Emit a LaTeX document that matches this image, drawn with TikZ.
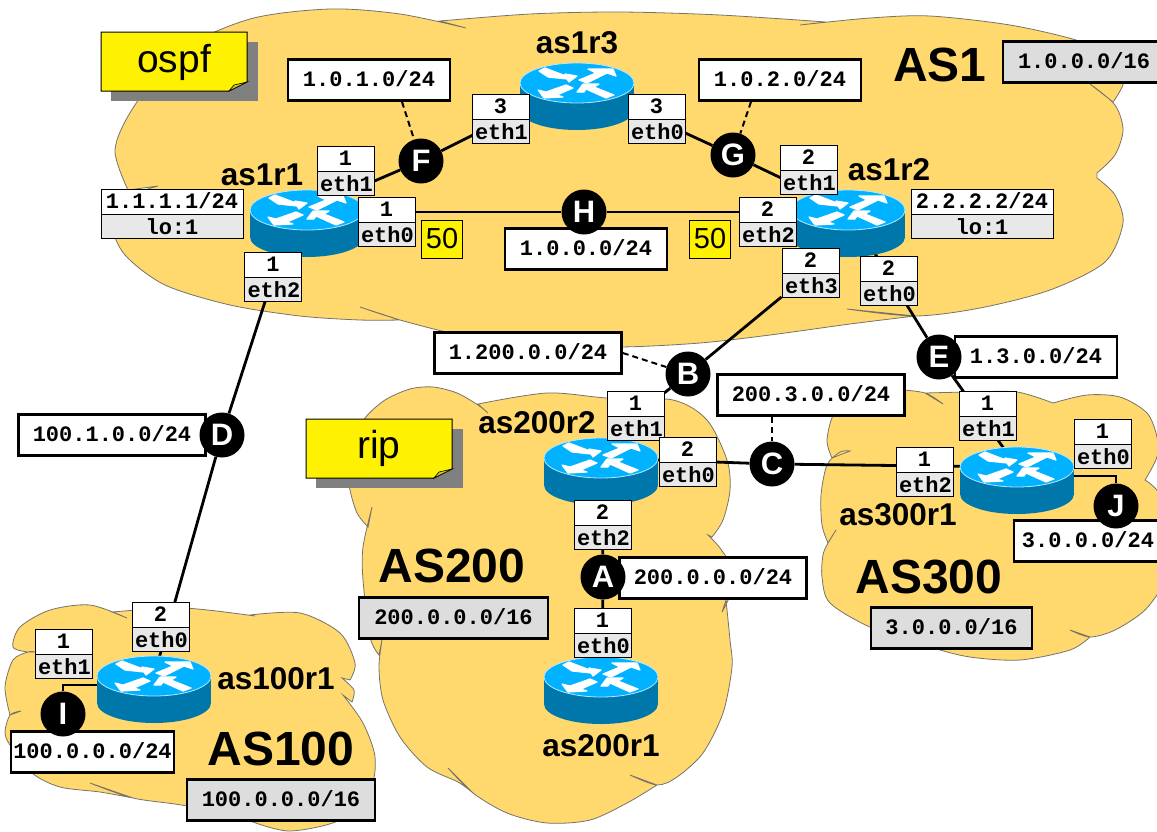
\documentclass[tikz,border=0pt]{standalone}
\usepackage{fontspec}
\usepackage{xcolor}
\setsansfont{Liberation Sans}
\setmonofont{Liberation Mono}
\usetikzlibrary{backgrounds,shapes.multipart}
\definecolor{cloudfill}{HTML}{FFD86E}
\definecolor{cloudedge}{HTML}{77736A}
\definecolor{routertop}{HTML}{00B2FF}
\definecolor{routerside}{HTML}{0077AA}
\definecolor{partgray}{HTML}{E8E8E8}
\definecolor{asgray}{HTML}{DDDDDD}
\definecolor{noteshadow}{HTML}{808080}
\tikzset{
  cloud/.style={fill=cloudfill,draw=cloudedge,line width=0.8pt},
  link/.style={draw=black,line width=2.8pt},
  netdash/.style={draw=black,line width=2pt,dashed,dash pattern=on 6pt off 4pt},
  iface/.style={draw=black,line width=1pt,rectangle split,rectangle split parts=2,
    rectangle split part fill={white,partgray},text width=51pt,align=center,
    inner xsep=3pt,inner ysep=3pt,text height=15pt,text depth=3pt,
    font=\ttfamily\bfseries\fontsize{22}{24}\selectfont},
  loback/.style={iface,text width=136pt},
  netbox/.style={draw=black,line width=2.6pt,fill=white,minimum height=41pt,inner sep=0pt,
    text height=15pt,text depth=3pt,font=\ttfamily\bfseries\fontsize{22}{24}\selectfont},
  asbox/.style={netbox,fill=asgray},
  hub/.style={circle,fill=black,text=white,minimum size=45pt,inner sep=0pt,
    font=\sffamily\bfseries\fontsize{31}{31}\selectfont},
  routername/.style={inner sep=0pt,font=\sffamily\bfseries\fontsize{31.5}{31.5}\selectfont},
  asname/.style={inner sep=0pt,font=\sffamily\bfseries\fontsize{48}{48}\selectfont},
  notetext/.style={inner sep=0pt,font=\sffamily\fontsize{39}{39}\selectfont},
  cost/.style={draw=black,line width=0.8pt,fill=yellow,minimum width=41pt,minimum height=38pt,
    inner sep=0pt,font=\sffamily\fontsize{29}{29}\selectfont},
  turn/.style={fill=white,draw=white,line width=1.2pt,line join=round},
  pics/router/.style={code={
    \fill[routerside] (-57,0) rectangle (57,27);
    \fill[routerside] (0,27) ellipse [x radius=57pt,y radius=20pt];
    \draw[fill=routertop,draw=white!70!routertop,line width=0.8pt] (0,0) ellipse [x radius=57pt,y radius=20pt];
    \path[turn] (-38,-12) -- (-32,-15) -- (-11,-7) -- (-12,-9) -- (0,-7) -- (-8,-1) -- (-10,-4) -- (-29,-6) -- cycle;
    \path[turn] (2,-3) -- (19,-10) -- (11,-14) -- (36,-14) -- (39,-7) -- (30,-10) -- (10,0) -- cycle;
    \path[turn] (-11,2) -- (-4,5) -- (-20,12) -- (-14,14) -- (-33,15) -- (-39,7) -- (-31,9) -- cycle;
    \path[turn] (0,9) -- (6,1) -- (22,1) -- (17,4) -- (37,12) -- (29,15) -- (9,6) -- (7,9) -- cycle;
    \coordinate (-c) at (0,0);
    \coordinate (-w) at (-57,9);
    \coordinate (-e) at (57,9);
  }},
  pics/notebox/.style={code={
    \fill[noteshadow] (10,10) rectangle (157,69);
    \draw[fill=yellow,draw=black,line width=1pt] (0,0) -- (146,0) -- (146,50) -- (128,59) -- (0,59) -- cycle;
    \draw[fill=yellow!80!black,draw=black,line width=0.6pt] (128,59) -- (133,53) -- (146,50) -- cycle;
  }}
}
\begin{document}
\begin{tikzpicture}[x=1pt,y=-1pt]
\useasboundingbox (0,0) rectangle (1157,831);

\pic at (101,32) {notebox};
\pic at (306,419) {notebox};
\node[notetext] (ospf) at (174,62) {ospf};
\node[notetext] (rip) at (379,448) {rip};

\pic (as1r1) at (307,210) {router};
\pic (as1r2) at (848,210) {router};
\pic (as1r3) at (577,83) {router};
\pic (as200r1) at (601,677) {router};
\pic (as200r2) at (601,458) {router};
\pic (as300r1) at (1017,467) {router};
\pic (as100r1) at (154,676) {router};

\node[routername] (name1r1) at (262,175) {as1r1};
\node[routername] (name1r2) at (889,170) {as1r2};
\node[routername] (name1r3) at (577,43) {as1r3};
\node[routername] (name200r1) at (601,746) {as200r1};
\node[routername] (name200r2) at (537,423) {as200r2};
\node[routername] (name300r1) at (898,515) {as300r1};
\node[routername] (name100r1) at (276,679) {as100r1};

\node[asname] (as1) at (940,65) {AS1};
\node[asname] (as200) at (452,566) {AS200};
\node[asname] (as300) at (929,577) {AS300};
\node[asname] (as100) at (281,749) {AS100};

\node[iface] (as1r1eth1) at (345.5,171) {1\nodepart{two}eth1};
\node[iface] (as1r1eth0) at (386.5,222) {1\nodepart{two}eth0};
\node[iface] (as1r1eth2) at (273,277) {1\nodepart{two}eth2};
\node[iface] (as1r3eth1) at (500.5,119) {3\nodepart{two}eth1};
\node[iface] (as1r3eth0) at (656.5,119) {3\nodepart{two}eth0};
\node[iface] (as1r2eth1) at (808.5,170) {2\nodepart{two}eth1};
\node[iface] (as1r2eth2) at (767.5,222) {2\nodepart{two}eth2};
\node[iface] (as1r2eth3) at (810.5,273) {2\nodepart{two}eth3};
\node[iface] (as1r2eth0) at (888.5,281) {2\nodepart{two}eth0};
\node[iface] (as200r2eth1) at (635.5,416) {1\nodepart{two}eth1};
\node[iface] (as200r2eth0) at (687.5,462) {2\nodepart{two}eth0};
\node[iface] (as200r2eth2) at (602.5,525) {2\nodepart{two}eth2};
\node[iface] (as200r1eth0) at (602.5,633) {1\nodepart{two}eth0};
\node[iface] (as300r1eth1) at (987.5,416) {1\nodepart{two}eth1};
\node[iface] (as300r1eth2) at (924.5,472) {1\nodepart{two}eth2};
\node[iface] (as300r1eth0) at (1102.5,444) {1\nodepart{two}eth0};
\node[iface] (as100r1eth0) at (160.5,627) {2\nodepart{two}eth0};
\node[iface] (as100r1eth1) at (63.5,654) {1\nodepart{two}eth1};
\node[loback] (lo1) at (172,214) {1.1.1.1/24\nodepart{two}lo:1};
\node[loback] (lo2) at (982,214) {2.2.2.2/24\nodepart{two}lo:1};

\node[cost] (cost1) at (442,239) {50};
\node[cost] (cost2) at (710,239) {50};

\node[netbox,minimum width=162pt] (netF) at (369,80) {1.0.1.0/24};
\node[netbox,minimum width=162pt] (netG) at (780,80) {1.0.2.0/24};
\node[netbox,minimum width=162pt] (netH) at (586,249) {1.0.0.0/24};
\node[netbox,minimum width=187pt] (netB) at (528,353) {1.200.0.0/24};
\node[netbox,minimum width=187pt] (netC) at (811,395) {200.3.0.0/24};
\node[netbox,minimum width=162pt] (netE) at (1036,357) {1.3.0.0/24};
\node[netbox,minimum width=187pt] (netD) at (112,435) {100.1.0.0/24};
\node[netbox,minimum width=187pt] (netA) at (713,578) {200.0.0.0/24};
\node[netbox,minimum width=148pt] (netJ) at (1088,541) {3.0.0.0/24};
\node[netbox,minimum width=163pt] (netI) at (92.5,752) {100.0.0.0/24};
\node[asbox,minimum width=162pt] (pfx1) at (1084,62) {1.0.0.0/16};
\node[asbox,minimum width=189pt] (pfx200) at (453.5,618) {200.0.0.0/16};
\node[asbox,minimum width=161pt] (pfx300) at (951.5,628) {3.0.0.0/16};
\node[asbox,minimum width=188pt] (pfx100) at (281,800) {100.0.0.0/16};

\node[hub] (F) at (421,161) {F};
\node[hub] (G) at (733,155) {G};
\node[hub] (H) at (584,212) {H};
\node[hub] (B) at (688,374) {B};
\node[hub] (C) at (772,464) {C};
\node[hub] (E) at (939,357) {E};
\node[hub] (D) at (222,435) {D};
\node[hub] (A) at (603,577) {A};
\node[hub] (I) at (63,714) {I};
\node[hub] (J) at (1116,506) {J};

\begin{scope}[on background layer]
\path[cloud] plot[smooth] coordinates {(128,190) (115,150) (133,108) (178,52) (250,19) (330,9) (400,14) (466,28)}
  -- plot[smooth] coordinates {(440,21) (530,14) (620,12) (720,15) (826,22)}
  -- plot[smooth] coordinates {(800,25) (870,18) (930,16) (1010,25) (1076,40) (1110,55) (1124,80) (1113,102)}
  -- plot[smooth] coordinates {(1090,84) (1115,105) (1123,130) (1115,155) (1097,173)}
  -- plot[smooth] coordinates {(1097,178) (1115,195) (1123,223) (1105,262) (1050,290) (980,308) (915,316) (847,309)}
  -- plot[smooth] coordinates {(915,316) (850,324) (770,335) (700,343) (620,347) (530,345) (460,335) (400,320) (360,307)}
  -- plot[smooth] coordinates {(400,320) (360,320) (300,316) (230,305) (165,285) (125,255) (113,225) (130,197) (158,186)} -- cycle;
\path[cloud] plot[smooth] coordinates {(368,527) (357,513) (350,490) (348,470) (355,440) (365,418) (385,400) (410,389) (433,387) (457,393) (478,405) (488,413)}
  -- plot[smooth] coordinates {(478,404) (547,393) (607,398) (673,400) (707,420) (727,460) (730,490) (723,520) (712,537)}
  -- plot[smooth] coordinates {(708,535) (720,548) (733,570) (730,595) (722,612)}
  -- plot[smooth] coordinates {(726,600) (730,640) (732,667) (723,713) (703,753) (677,777) (657,785) (630,775)}
  -- plot[smooth] coordinates {(657,785) (627,803) (590,820) (547,823) (507,813) (473,793) (448,768)}
  -- plot[smooth] coordinates {(473,793) (458,782) (427,767) (400,737) (383,700) (379,667) (382,640)}
  -- plot[smooth] coordinates {(379,655) (370,637) (363,580) (363,547) (372,507)} -- cycle;
\path[cloud] plot[smooth] coordinates {(832,458) (827,440) (835,412) (860,395) (895,390) (925,393) (943,404)}
  -- plot[smooth] coordinates {(925,393) (970,392) (1017,392) (1053,403)}
  -- plot[smooth] coordinates {(1053,403) (1087,395) (1120,397) (1147,413) (1157,437) (1157,457) (1145,480)}
  -- plot[smooth] coordinates {(1145,480) (1160,495) (1172,540) (1165,580) (1145,610) (1115,630) (1090,637) (1070,630)}
  -- plot[smooth] coordinates {(1090,637) (1070,650) (1020,660) (970,657) (930,647) (872,628) (830,603) (822,577) (823,555) (828,543) (836,530)}
  -- plot[smooth] coordinates {(828,543) (822,525) (821,495) (827,465) (840,452) (850,451)} -- cycle;
\path[cloud] plot[smooth] coordinates {(28,652) (13,647) (20,627) (50,610) (90,605) (127,618)}
  -- plot[smooth] coordinates {(112,612) (183,608) (255,616)}
  -- plot[smooth] coordinates {(250,615) (300,613) (340,633) (355,663) (350,680)}
  -- plot[smooth] coordinates {(342,678) (354,690) (352,702)}
  -- plot[smooth] coordinates {(343,695) (363,723) (375,757) (370,790) (340,820) (290,831) (253,822)}
  -- plot[smooth] coordinates {(253,822) (187,806) (133,798) (90,783)}
  -- plot[smooth] coordinates {(133,798) (100,792) (60,787) (32,773) (10,745) (5,732) (10,715) (21,711)}
  -- plot[smooth] coordinates {(10,715) (5,687) (13,660) (28,652) (35,652)} -- cycle;

\draw[link] (as1r1-c) -- (F);
\draw[link] (F) -- (as1r3-c);
\draw[link] (as1r3-c) -- (G);
\draw[link] (G) -- (as1r2-c);
\draw[link] (H -| as1r1-c) -- (H);
\draw[link] (H) -- (H -| as1r2-c);
\draw[link] (as1r2eth3) -- (B);
\draw[link] (B) -- (as200r2eth1);
\draw[link] (as200r2-c) -- (C);
\draw[link] (C) -- (as300r1-c);
\draw[link] (as1r2-c) -- (E);
\draw[link] (E) -- (as300r1-c);
\draw[link] (as1r1eth2) -- (D);
\draw[link] (D) -- (as100r1-c);
\draw[link] (as200r2eth2) -- (A);
\draw[link] (A) -- (as200r1eth0);
\draw[link] (J) |- (as300r1-e);
\draw[link] (I) |- (as100r1-w);
\draw[netdash] ([xshift=33pt]netF.south) -- (F);
\draw[netdash] ([xshift=-29pt]netG.south) -- (G);
\draw[netdash] (netB.east) -- (B);
\draw[netdash] (netC.south -| C) -- (C);
\end{scope}
\end{tikzpicture}
\end{document}
